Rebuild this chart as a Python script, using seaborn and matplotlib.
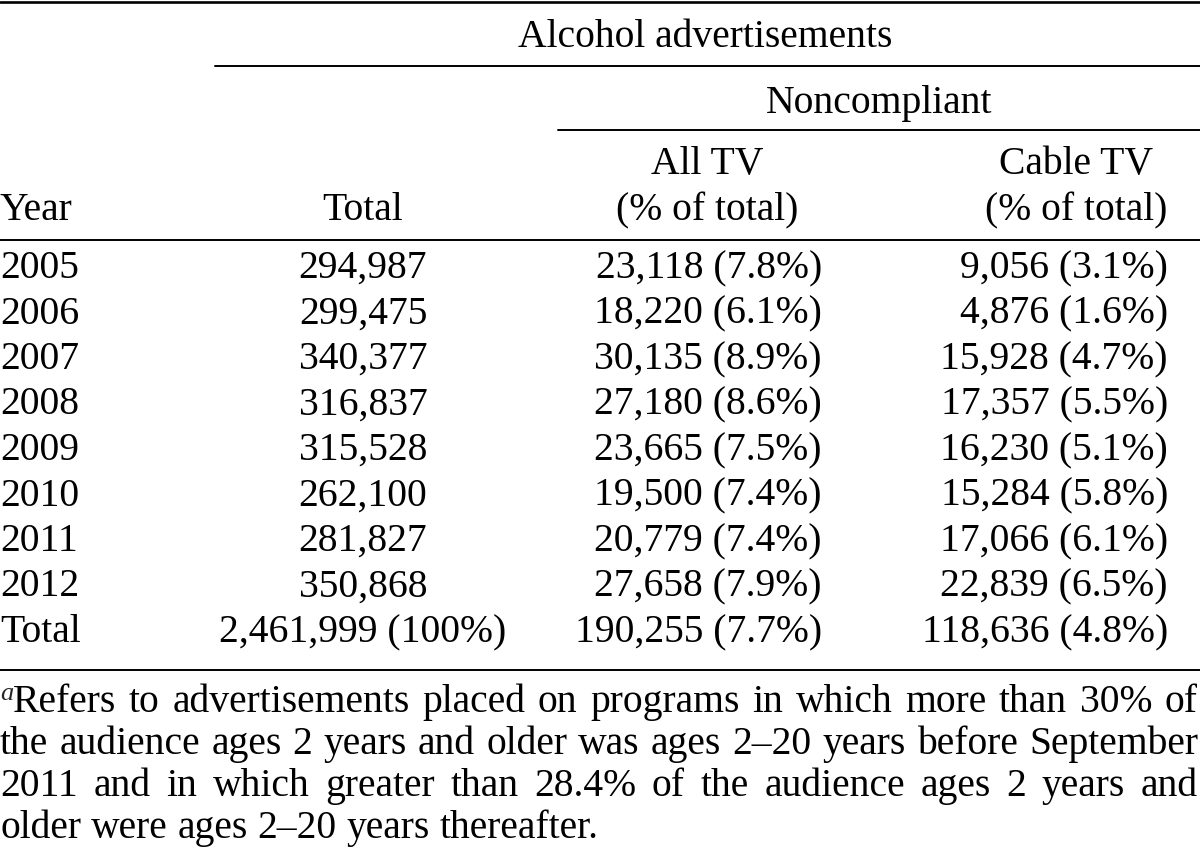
import matplotlib
matplotlib.use("Agg")
import matplotlib.pyplot as plt
import seaborn as sns

# table data
years = ["2005", "2006", "2007", "2008", "2009", "2010", "2011", "2012", "Total"]
totals = [294987, 299475, 340377, 316837, 315528, 262100, 281827, 350868, 2461999]
all_tv = [23118, 18220, 30135, 27180, 23665, 19500, 20779, 27658, 190255]
all_tv_pct = [7.8, 6.1, 8.9, 8.6, 7.5, 7.4, 7.4, 7.9, 7.7]
cable_tv = [9056, 4876, 15928, 17357, 16230, 15284, 17066, 22839, 118636]
cable_pct = [3.1, 1.6, 4.7, 5.5, 5.1, 5.8, 6.1, 6.5, 4.8]

header_top = "Alcohol advertisements"
header_mid = "Noncompliant"
col_heads = ["Year", "Total", "All TV\n(% of total)", "Cable TV\n(% of total)"]

footnote_mark = "a"
footnote_lines = [
    "Refers to advertisements placed on programs in which more than 30% of",
    "the audience ages 2 years and older was ages 2\u201320 years before September",
    "2011 and in which greater than 28.4% of the audience ages 2 years and",
    "older were ages 2\u201320 years thereafter.",
]

sns.set_theme(style="white")
plt.rcParams['font.family'] = ['Liberation Serif', 'DejaVu Serif']

fig = plt.figure(figsize=(12, 8.6), dpi=100)
ax = fig.add_axes([0, 0, 1, 1])
ax.set_xlim(0, 1200)
ax.set_ylim(860, 0)
ax.axis("off")

fs = 28.5
kw = dict(fontsize=fs, color="black", va="baseline")

# rules
ax.plot([0, 1200], [2, 2], color="black", lw=1.9)
ax.plot([215, 1200], [66, 66], color="black", lw=1.4)
ax.plot([558, 1200], [130, 130], color="black", lw=1.4)
ax.plot([0, 1200], [240, 240], color="black", lw=1.4)
ax.plot([0, 1200], [670, 670], color="black", lw=1.4)

# headers
ax.text(705, 47, header_top, ha="center", **kw)
ax.text(879, 113, header_mid, ha="center", **kw)
ax.text(0, 220, col_heads[0], ha="left", **kw)
ax.text(363, 220, col_heads[1], ha="center", **kw)
for cx, lab in [(707, col_heads[2]), (1076, col_heads[3])]:
    top, bot = lab.split("\n")
    ax.text(cx, 174, top, ha="center", **kw)
    ax.text(cx, 220, bot, ha="center", **kw)

# body rows
for i, yr in enumerate(years):
    y = 278 + 45.5 * i
    ax.text(0, y, yr, ha="left", **kw)
    tot = f"{totals[i]:,}"
    if yr == "Total":
        tot += " (100%)"
    ax.text(363, y, tot, ha="center", **kw)
    ax.text(822, y, f"{all_tv[i]:,} ({all_tv_pct[i]}%)", ha="right", **kw)
    ax.text(1168, y, f"{cable_tv[i]:,} ({cable_pct[i]}%)", ha="right", **kw)

# footnote, justified
ax.text(0, 700, footnote_mark, fontsize=19, style="italic", va="baseline")
renderer = fig.canvas.get_renderer()
base = [712, 754, 796, 838]
for li, line in enumerate(footnote_lines):
    x0 = 13 if li == 0 else 0
    words = line.split(" ")
    arts = [ax.text(0, base[li], w, ha="left", **kw) for w in words]
    widths = [a.get_window_extent(renderer).width for a in arts]
    if li < len(footnote_lines) - 1:
        gap = (1198 - x0 - sum(widths)) / (len(words) - 1)
    else:
        sp = ax.text(0, 0, "a a", fontsize=fs)
        sa = ax.text(0, 0, "aa", fontsize=fs)
        gap = sp.get_window_extent(renderer).width - sa.get_window_extent(renderer).width
        sp.remove()
        sa.remove()
    x = x0
    for a, w in zip(arts, widths):
        a.set_x(x)
        x += w + gap

fig.savefig("out.png", dpi=100, facecolor="white")
